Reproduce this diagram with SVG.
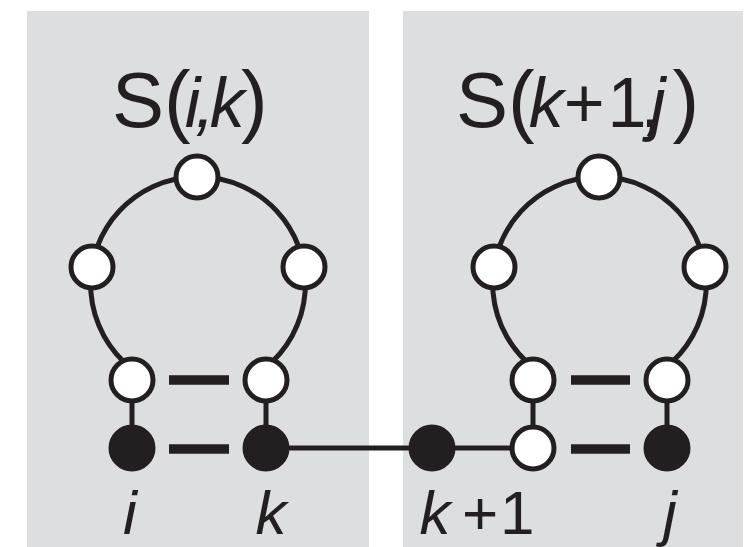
<svg xmlns="http://www.w3.org/2000/svg" width="750" height="547" viewBox="0 0 750 547">
<style>
.panel{fill:#dcdee0}
.edge{stroke:#231f20;stroke-width:5;fill:none}
.pair{stroke:#231f20;stroke-width:9.5;fill:none}
.open{fill:#ffffff;stroke:#231f20;stroke-width:5}
.solid{fill:#231f20;stroke:#231f20;stroke-width:5}
.lbl{font-family:"Liberation Sans",Arial,sans-serif;fill:#231f20}
.it{font-style:italic}
</style>
<rect width="750" height="547" fill="#ffffff"/>
<g id="panels">
<rect class="panel" x="27" y="11" width="342" height="536"/>
<rect class="panel" x="403" y="11" width="340" height="536"/>
</g>
<g id="connectors">
<path class="edge" d="M 131 368 A 107.4 107.4 0 1 1 265 368"/>
<path class="edge" d="M 534 368 A 106.8 106.8 0 1 1 665 368"/>
<line class="edge" x1="132" y1="380" x2="132" y2="448"/>
<line class="edge" x1="266" y1="380" x2="266" y2="448"/>
<line class="edge" x1="533" y1="380" x2="533" y2="448"/>
<line class="edge" x1="667" y1="380" x2="667" y2="448"/>
<line class="edge" x1="266" y1="448" x2="533" y2="448"/>
<line class="pair" x1="169" y1="380" x2="229" y2="380"/>
<line class="pair" x1="169" y1="449" x2="229" y2="449"/>
<line class="pair" x1="571" y1="380" x2="630" y2="380"/>
<line class="pair" x1="571" y1="449" x2="630" y2="449"/>
</g>
<g id="node-L1"><circle class="open" cx="197" cy="177" r="21"/></g>
<g id="node-L2"><circle class="open" cx="92" cy="267" r="21"/></g>
<g id="node-L3"><circle class="open" cx="304" cy="267" r="21"/></g>
<g id="node-L4"><circle class="open" cx="132" cy="380" r="21"/></g>
<g id="node-L5"><circle class="open" cx="266" cy="380" r="21"/></g>
<g id="node-i"><circle class="solid" cx="132" cy="448" r="21"/></g>
<g id="node-k"><circle class="solid" cx="266" cy="448" r="21"/></g>
<g id="node-k1"><circle class="solid" cx="432" cy="448" r="21"/></g>
<g id="node-R1"><circle class="open" cx="599" cy="177" r="21"/></g>
<g id="node-R2"><circle class="open" cx="494" cy="267" r="21"/></g>
<g id="node-R3"><circle class="open" cx="705" cy="267" r="21"/></g>
<g id="node-R4"><circle class="open" cx="533" cy="380" r="21"/></g>
<g id="node-R5"><circle class="open" cx="667" cy="380" r="21"/></g>
<g id="node-R6"><circle class="open" cx="533" cy="448" r="21"/></g>
<g id="node-j"><circle class="solid" cx="667" cy="448" r="21"/></g>
<g id="labels">
<text class="lbl" y="127"><tspan x="112" font-size="78">S</tspan><tspan font-size="80" letter-spacing="-6">(</tspan><tspan class="it" font-size="70" letter-spacing="-5">i,k</tspan><tspan x="241" font-size="80">)</tspan></text>
<text class="lbl" y="127"><tspan x="456" font-size="78">S</tspan><tspan font-size="80" letter-spacing="-6">(</tspan><tspan class="it" font-size="70">k</tspan><tspan font-size="70">+</tspan><tspan font-size="70" dx="3" letter-spacing="-6">1</tspan><tspan font-size="70" letter-spacing="-10">,</tspan><tspan class="it" font-size="70">j</tspan><tspan font-size="80" dx="7">)</tspan></text>
<text class="lbl it" font-size="62" x="123" y="534">i</text>
<text class="lbl it" font-size="62" x="255.5" y="534">k</text>
<text class="lbl" font-size="62" y="534"><tspan class="it" x="419.5">k</tspan><tspan x="462">+</tspan><tspan x="500">1</tspan></text>
<text class="lbl it" font-size="62" x="663" y="534">j</text>
</g>
</svg>
